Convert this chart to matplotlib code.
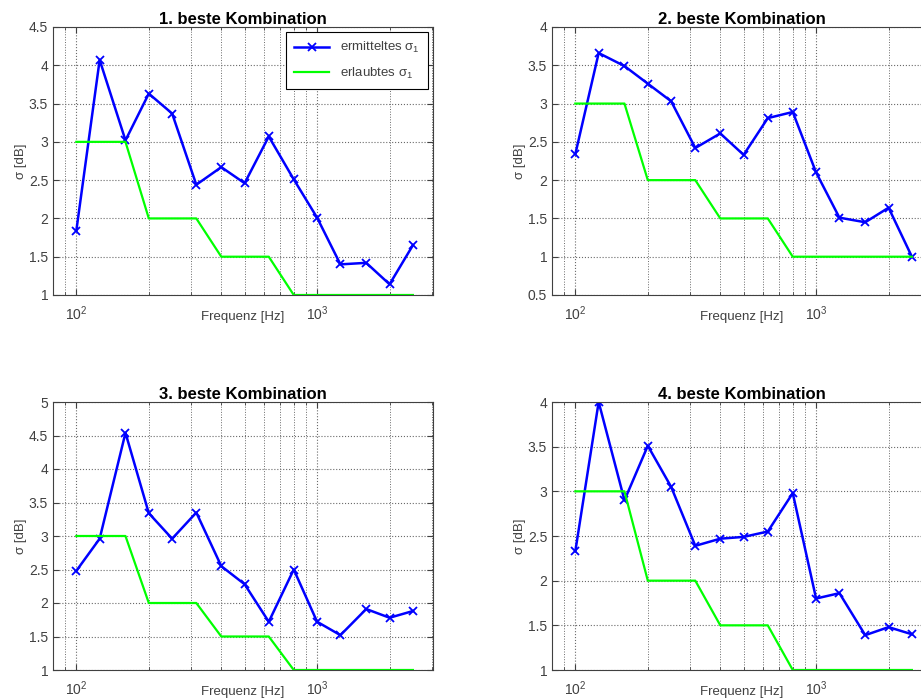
import matplotlib
matplotlib.use('Agg')
import matplotlib.pyplot as plt
from matplotlib.ticker import LogLocator, NullFormatter, MultipleLocator, FormatStrFormatter

plt.rcParams['font.family'] = ['Liberation Sans', 'DejaVu Sans']
plt.rcParams['mathtext.fontset'] = 'custom'
plt.rcParams['mathtext.rm'] = 'Liberation Sans'
plt.rcParams['mathtext.it'] = 'Liberation Sans'

# third-octave band centre frequencies
freq = [100, 125, 160, 200, 250, 315, 400, 500, 630, 800, 1000, 1250, 1600, 2000, 2500]

# allowed sigma (same for all combinations)
allowed = [3, 3, 3, 2, 2, 2, 1.5, 1.5, 1.5, 1, 1, 1, 1, 1, 1]

# determined sigma for the four best combinations
sigma_1 = [1.84, 4.07, 3.02, 3.63, 3.37, 2.44, 2.67, 2.46, 3.07, 2.51, 2.01, 1.40, 1.42, 1.14, 1.65]
sigma_2 = [2.34, 3.66, 3.49, 3.26, 3.03, 2.42, 2.61, 2.33, 2.81, 2.89, 2.10, 1.51, 1.45, 1.64, 1.00]
sigma_3 = [2.48, 2.96, 4.54, 3.34, 2.96, 3.35, 2.55, 2.28, 1.72, 2.50, 1.72, 1.52, 1.91, 1.78, 1.88]
sigma_4 = [2.33, 4.00, 2.90, 3.51, 3.05, 2.39, 2.47, 2.49, 2.55, 2.98, 1.80, 1.86, 1.39, 1.48, 1.40]

titles = ['1. beste Kombination', '2. beste Kombination',
          '3. beste Kombination', '4. beste Kombination']
ylims = [(1, 4.5), (0.5, 4), (1, 5), (1, 4)]

W, H = 921, 700
# axes boxes in pixels: left, top, width, height
boxes = [(53, 27, 380, 268), (552, 27, 380, 268),
         (53, 402, 380, 268), (552, 402, 380, 268)]

txt_col = '#404040'
grid_col = '#6a6a6a'

fig = plt.figure(figsize=(W / 100, H / 100), dpi=100)

for i, (sig, title, ylim, box) in enumerate(zip([sigma_1, sigma_2, sigma_3, sigma_4],
                                                  titles, ylims, boxes)):
    l, t, w, h = box
    ax = fig.add_axes([l / W, (H - t - h) / H, w / W, h / H])
    ax.plot(freq, sig, color='#0000ff', lw=1.8, marker='x', ms=6, mew=1.3,
            label=r'ermitteltes $\sigma_1$')
    ax.plot(freq, allowed, color='#00ff00', lw=1.6, label=r'erlaubtes $\sigma_1$')
    ax.set_xscale('log')
    ax.set_xlim(80, 3030)
    ax.set_ylim(*ylim)
    ax.yaxis.set_major_locator(MultipleLocator(0.5))
    ax.yaxis.set_major_formatter(FormatStrFormatter('%g'))
    ax.xaxis.set_major_locator(LogLocator(base=10))
    ax.xaxis.set_minor_locator(LogLocator(base=10, subs=range(2, 10)))
    ax.xaxis.set_minor_formatter(NullFormatter())
    ax.grid(True, which='major', ls=':', color=grid_col, lw=0.8)
    ax.grid(True, which='minor', axis='x', ls=':', color=grid_col, lw=0.7)
    ax.tick_params(which='both', direction='in', colors=txt_col, labelsize=10,
                   top=True, right=True)
    ax.tick_params(which='major', length=4)
    ax.tick_params(which='minor', length=2)
    ax.tick_params(axis='x', which='major', pad=7)
    for s in ax.spines.values():
        s.set_color('#404040')
    ax.set_title(title, fontsize=12, fontweight='bold', pad=2)
    ax.set_xlabel('Frequenz [Hz]', fontsize=9.5, color=txt_col, labelpad=-9)
    ax.set_ylabel('σ [dB]', fontsize=9.5, color=txt_col, labelpad=1)
    if i == 0:
        leg = ax.legend(loc='upper right', fontsize=9.5, fancybox=False,
                        edgecolor='black', framealpha=1, handlelength=2.7,
                        borderpad=0.6, labelspacing=0.8, borderaxespad=0.4)
        leg.get_frame().set_linewidth(0.8)
        for tx in leg.get_texts():
            tx.set_color(txt_col)

fig.savefig('out.png', dpi=100)
